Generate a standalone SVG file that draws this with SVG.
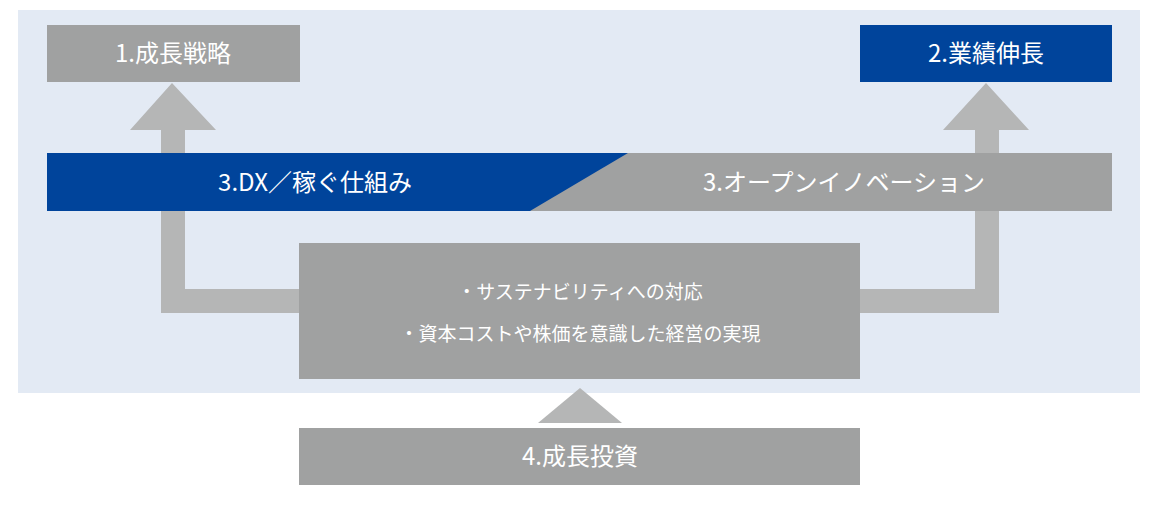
<svg xmlns="http://www.w3.org/2000/svg" width="1160" height="508" viewBox="0 0 1160 508">
<style>
.g{fill:#a0a1a1}.b{fill:#00449b}.a{fill:#b5b6b6}
text{font-family:"Noto Sans CJK JP","Noto Sans",sans-serif;fill:#fff;text-anchor:middle}
.t{font-size:24px}.s{font-size:19px}
</style>
<rect width="1160" height="508" fill="#fff"/>
<rect x="18" y="10" width="1122" height="383" fill="#e3eaf4"/>
<g id="connectors">
<path class="a" d="M172 83 L216 130 L185 130 L185 289 L300 289 L300 313 L161 313 L161 130 L130 130 Z"/>
<path class="a" d="M986 83 L1029 130 L999 130 L999 313 L860 313 L860 289 L975 289 L975 130 L943 130 Z"/>
<path class="a" d="M580 388 L622 423 L538 423 Z"/>
</g>
<g id="n1"><rect class="g" x="47" y="25" width="253" height="57"/><text class="t" x="173" y="62">1.成長戦略</text></g>
<g id="n2"><rect class="b" x="860" y="25" width="252" height="57"/><text class="t" x="986" y="62">2.業績伸長</text></g>
<g id="n3">
<rect class="g" x="47" y="153" width="1065" height="58"/>
<path class="b" d="M47 153 L628 153 L530 211 L47 211 Z"/>
<text class="t" x="315" y="191">3.DX／稼ぐ仕組み</text>
<text class="t" x="844" y="191">3.オープンイノベーション</text>
</g>
<g id="n5"><rect class="g" x="299" y="243" width="561" height="136"/>
<text class="s" x="580" y="299">・サステナビリティへの対応</text>
<text class="s" x="580" y="341">・資本コストや株価を意識した経営の実現</text></g>
<g id="n4"><rect class="g" x="299" y="428" width="561" height="57"/><text class="t" x="580" y="465">4.成長投資</text></g>
</svg>
